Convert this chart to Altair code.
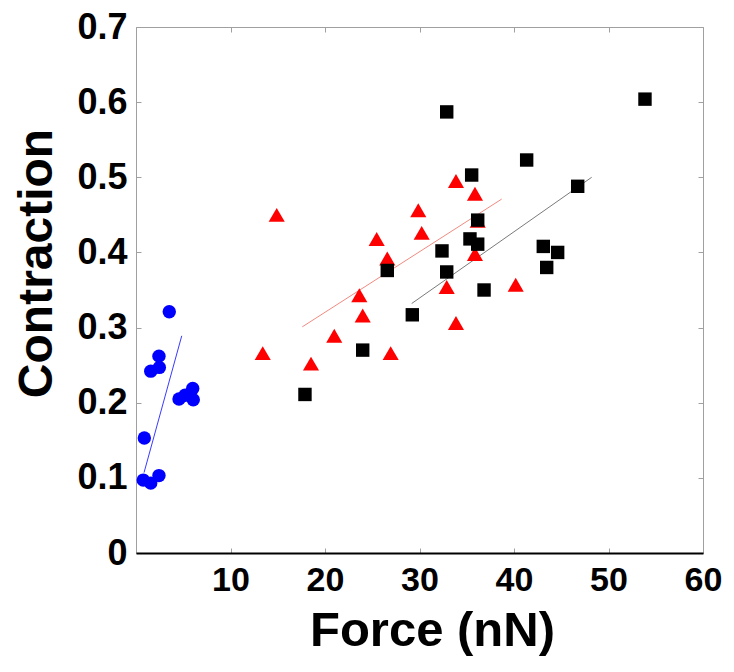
import altair as alt
import pandas as pd

# Blue circles
blue_x = [3.52, 2.43, 2.47, 1.56, 6.00, 4.55, 5.19, 6.06, 0.88, 0.77, 1.56, 2.43]
blue_y = [0.321, 0.262, 0.247, 0.242, 0.219, 0.205, 0.210, 0.204, 0.153, 0.097, 0.093, 0.103]

# Red triangles
red_x = [14.89, 13.41, 18.52, 20.98, 23.99, 23.63, 26.95, 25.47, 26.59, 29.87,
         30.23, 32.88, 33.86, 33.86, 35.87, 36.16, 35.87, 40.18]
red_y = [0.450, 0.266, 0.252, 0.289, 0.316, 0.343, 0.266, 0.418, 0.392, 0.456,
         0.426, 0.354, 0.306, 0.495, 0.478, 0.442, 0.398, 0.357]

# Black squares
black_x = [17.88, 23.99, 26.59, 29.24, 32.38, 32.88, 32.88, 35.34, 35.52, 36.16,
           36.16, 36.83, 41.34, 43.10, 43.46, 44.62, 46.74, 53.86]
black_y = [0.211, 0.270, 0.376, 0.317, 0.402, 0.374, 0.587, 0.418, 0.503, 0.443,
           0.411, 0.350, 0.523, 0.408, 0.380, 0.400, 0.488, 0.604]

# Fit lines (end points)
blue_fit_x = [0.85, 4.84]
blue_fit_y = [0.107, 0.289]
red_fit_x = [17.60, 38.70]
red_fit_y = [0.301, 0.471]
black_fit_x = [29.17, 48.22]
black_fit_y = [0.332, 0.500]

x_ticks = [0, 10, 20, 30, 40, 50, 60]
y_ticks = [0, 0.1, 0.2, 0.3, 0.4, 0.5, 0.6, 0.7]

W, H = 567, 526
FONT = "Liberation Sans"

xscale = alt.Scale(domain=[0, 60], nice=False, zero=False)
yscale = alt.Scale(domain=[0, 0.7], nice=False, zero=False)

xaxis = alt.Axis(
    values=x_ticks,
    labelExpr="datum.value == 0 ? '' : datum.label",
    title="Force (nN)",
    titleFont=FONT, titleFontSize=49, titleFontWeight="bold", titleColor="black",
    titleX=296, titleY=92, titleBaseline="alphabetic", titleAlign="center",
    labelFont=FONT, labelFontSize=34, labelFontWeight="bold", labelColor="black",
    labelPadding=10, tickSize=0, labelFlush=False,
    domain=True, domainColor="black", domainWidth=2,
    grid=True, gridColor="#a0a0a0", gridWidth=1, gridDash=[5, H - 10, 5],
)
yaxis = alt.Axis(
    values=y_ticks,
    labelExpr="datum.value == 0 ? '0' : format(datum.value, '.1f')",
    title="Contraction",
    titleFont=FONT, titleFontSize=48, titleFontWeight="bold", titleColor="black",
    titleAngle=-90, titleX=-85, titleY=236, titleBaseline="alphabetic", titleAlign="center",
    labelFont=FONT, labelFontSize=36, labelFontWeight="bold", labelColor="black",
    labelPadding=9, tickSize=0, domain=False, labelFlush=False,
    grid=True, gridColor="#a0a0a0", gridWidth=1, gridDash=[5, W - 10, 5],
)

def pts(xs, ys):
    return pd.DataFrame({"x": xs, "y": ys})

base_enc = dict(
    x=alt.X("x:Q", scale=xscale, axis=xaxis),
    y=alt.Y("y:Q", scale=yscale, axis=yaxis),
)

blue_line = alt.Chart(pts(blue_fit_x, blue_fit_y)).mark_line(color="#3a3aff", strokeWidth=1).encode(**base_enc)
red_line = alt.Chart(pts(red_fit_x, red_fit_y)).mark_line(color="#f08a80", strokeWidth=1).encode(**base_enc)
black_line = alt.Chart(pts(black_fit_x, black_fit_y)).mark_line(color="#7a7a7a", strokeWidth=1).encode(**base_enc)

blue_pts = alt.Chart(pts(blue_x, blue_y)).mark_point(
    shape="circle", filled=True, color="#0000ff", size=180, opacity=1
).encode(**base_enc)
red_pts = alt.Chart(pts(red_x, red_y)).mark_point(
    shape="triangle-up", filled=True, color="#ff0000", size=260, opacity=1
).encode(**base_enc)
black_pts = alt.Chart(pts(black_x, black_y)).mark_point(
    shape="square", filled=True, color="#000000", size=180, opacity=1
).encode(**base_enc)

chart = alt.layer(
    blue_line, red_line, black_line, blue_pts, red_pts, black_pts
).properties(
    width=W, height=H,
    padding={"left": 128, "top": 19, "right": 23, "bottom": 104},
    autosize=alt.AutoSizeParams(type="none"),
    background="white",
).configure_view(
    stroke="#a0a0a0", strokeWidth=1
)

chart.save("out.html", embed_options={"renderer": "svg", "actions": False})
